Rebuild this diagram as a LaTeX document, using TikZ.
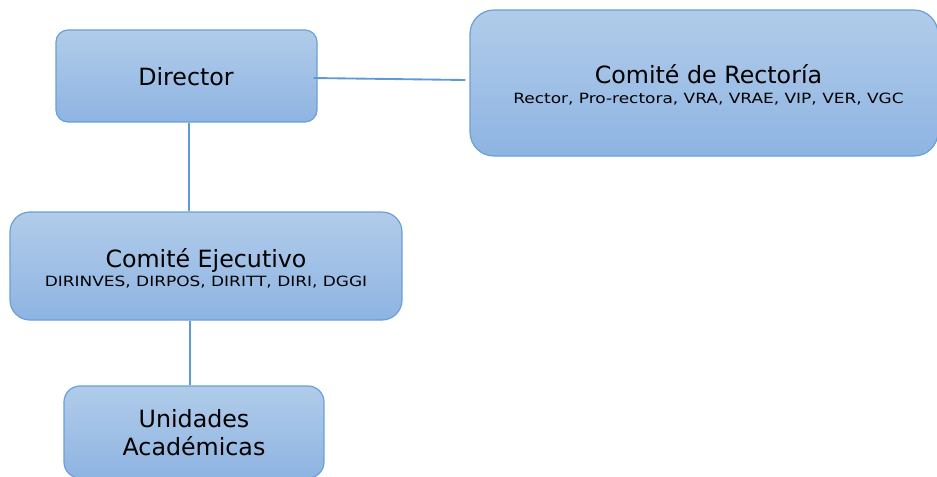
\documentclass[tikz,border=0pt]{standalone}
\usepackage{fontspec}
\setmainfont{DejaVu Sans}
\newfontfamily\subfont[FakeStretch=1.2]{DejaVu Sans}
\definecolor{boxtop}{HTML}{B1CCEA}
\definecolor{boxbot}{HTML}{8EB4E2}
\definecolor{boxline}{HTML}{6A9FD8}
\definecolor{connline}{HTML}{5E9AD6}
\begin{document}
\begin{tikzpicture}[x=0.75pt,y=-0.75pt,
  orgbox/.style={draw=boxline,line width=0.9pt,top color=boxtop,bottom color=boxbot,
    rectangle,rounded corners=#1,inner sep=0pt},
  orgbox/.default=9pt,
  title/.style={anchor=base,inner sep=0pt,font=\fontsize{17.8}{21}\selectfont},
  sub/.style={anchor=base,inner sep=0pt,font=\subfont\fontsize{10.6}{12}\selectfont},
  conn/.style={draw=connline,line width=1.4pt}]
\useasboundingbox (0,0) rectangle (937,476);
% boxes
\node[orgbox=9pt,minimum width=195.75pt,minimum height=69pt] (dir) at (186.5,76) {};
\node[orgbox=18pt,minimum width=351pt,minimum height=109.5pt] (rec) at (704,83) {};
\node[orgbox=15pt,minimum width=294pt,minimum height=81pt] (eje) at (206,266) {};
\node[orgbox=12pt,minimum width=195pt,minimum height=69pt] (uni) at (194,432) {};
% texts
\node[title] (dirt) at (186,85) {Director};
\node[title] (rect) at (708.5,83) {Comité de Rectoría};
\node[sub] (recs) at (708.5,103) {Rector, Pro-rectora, VRA, VRAE, VIP, VER, VGC};
\node[title] (ejet) at (206,267) {Comité Ejecutivo};
\node[sub] (ejes) at (206,286) {DIRINVES, DIRPOS, DIRITT, DIRI, DGGI};
\node[title] (unit1) at (194,427) {Unidades};
\node[title] (unit2) at (194,455) {Académicas};
% connectors
\draw[conn] ([yshift=-1.5pt,xshift=-3pt]dir.east) -- ([yshift=2.25pt,xshift=-3pt]rec.west);
\draw[conn] ([xshift=1.9pt]dir.south) -- ([xshift=1.9pt]dir.south |- eje.north);
\draw[conn] ([xshift=-3pt]uni.north) -- ([xshift=-3pt]uni.north |- eje.south);
\end{tikzpicture}
\end{document}
